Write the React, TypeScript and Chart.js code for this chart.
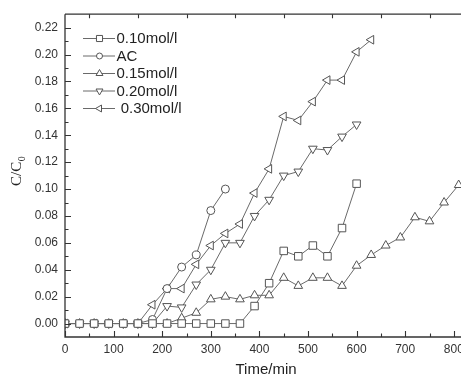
import React, { useEffect, useRef } from 'react';
import { Chart, registerables } from 'chart.js';
import { drawPoint } from 'chart.js/helpers';

Chart.register(...registerables);

// ---- data ----
const times = [0, 30, 60, 90, 120, 150, 180, 210, 240, 270, 300, 330, 360, 390, 420, 450, 480, 510, 540, 570, 600, 630, 660, 690, 720, 750, 780, 810];
const c010 = [0, 0, 0, 0, 0, 0, 0, 0, 0, 0, 0, 0, 0, 0.013, 0.030, 0.054, 0.050, 0.058, 0.050, 0.071, 0.104];
const cAC = [0, 0, 0, 0, 0, 0, 0.003, 0.026, 0.042, 0.051, 0.084, 0.100];
const c015 = [0, 0, 0, 0, 0, 0, 0, 0, 0.004, 0.008, 0.018, 0.020, 0.018, 0.021, 0.021, 0.034, 0.028, 0.034, 0.034, 0.028, 0.043, 0.051, 0.058, 0.064, 0.079, 0.076, 0.090, 0.103];
const c020 = [0, 0, 0, 0, 0, 0, 0, 0.013, 0.012, 0.029, 0.040, 0.060, 0.060, 0.080, 0.092, 0.110, 0.113, 0.130, 0.129, 0.139, 0.148];
const c030 = [0, 0, 0, 0, 0, 0, 0.014, 0.026, 0.026, 0.044, 0.058, 0.067, 0.074, 0.097, 0.115, 0.154, 0.151, 0.165, 0.181, 0.181, 0.202, 0.211];
const seriesLabels = ['0.10mol/l', 'AC', '0.15mol/l', '0.20mol/l', ' 0.30mol/l'];
const yTickValues = [0, 0.02, 0.04, 0.06, 0.08, 0.10, 0.12, 0.14, 0.16, 0.18, 0.20, 0.22];
const yMinorValues = [0.01, 0.03, 0.05, 0.07, 0.09, 0.11, 0.13, 0.15, 0.17, 0.19, 0.21];
const xTickValues = [0, 100, 200, 300, 400, 500, 600, 700, 800];
const xMinorValues = [50, 150, 250, 350, 450, 550, 650, 750, 850];
const xTopTickValues = [50, 150, 250, 350, 450, 550, 650, 750, 850];
const xTitle = 'Time/min';

const LINE = '#6a6a6a';
const MARK = '#555';
const AXIS = '#333';
const TEXT = '#333';
const SANS = '"Liberation Sans", Arial, sans-serif';
const SERIF = '"Liberation Serif", "Times New Roman", serif';

const styles = [
  { pointStyle: 'rect', rotation: 0, radius: 5.3 },
  { pointStyle: 'circle', rotation: 0, radius: 4 },
  { pointStyle: 'triangle', rotation: 0, radius: 5 },
  { pointStyle: 'triangle', rotation: 180, radius: 5 },
  { pointStyle: 'triangle', rotation: -90, radius: 5 },
];

const seriesValues = [c010, cAC, c015, c020, c030];

const decor = {
  id: 'decor',
  afterDraw(chart: any) {
    const { ctx, chartArea: ca, scales } = chart;
    const x = scales.x;
    const y = scales.y;
    ctx.save();
    ctx.strokeStyle = AXIS;
    ctx.lineWidth = 1.3;
    // axes lines
    ctx.beginPath();
    ctx.moveTo(ca.left, ca.top);
    ctx.lineTo(chart.width, ca.top);
    ctx.moveTo(ca.left, ca.top);
    ctx.lineTo(ca.left, ca.bottom);
    ctx.lineTo(chart.width, ca.bottom);
    ctx.stroke();
    ctx.lineWidth = 1.1;
    ctx.beginPath();
    yTickValues.forEach((v) => {
      const p = Math.round(y.getPixelForValue(v)) + 0.5;
      ctx.moveTo(ca.left, p);
      ctx.lineTo(ca.left + 6, p);
    });
    yMinorValues.forEach((v) => {
      const p = Math.round(y.getPixelForValue(v)) + 0.5;
      ctx.moveTo(ca.left, p);
      ctx.lineTo(ca.left + 3.5, p);
    });
    xTickValues.forEach((v) => {
      const p = Math.round(x.getPixelForValue(v)) + 0.5;
      ctx.moveTo(p, ca.bottom);
      ctx.lineTo(p, ca.bottom - 6);
    });
    xMinorValues.forEach((v) => {
      const p = Math.round(x.getPixelForValue(v)) + 0.5;
      ctx.moveTo(p, ca.bottom);
      ctx.lineTo(p, ca.bottom - 3.5);
    });
    xTopTickValues.forEach((v) => {
      const p = Math.round(x.getPixelForValue(v)) + 0.5;
      ctx.moveTo(p, ca.top);
      ctx.lineTo(p, ca.top + 4);
    });
    ctx.stroke();

    // legend
    const rows = [38.5, 56, 73.5, 91, 108.5];
    seriesLabels.forEach((lab, i) => {
      const ry = rows[i];
      ctx.strokeStyle = LINE;
      ctx.lineWidth = 1;
      ctx.beginPath();
      ctx.moveTo(83, ry);
      ctx.lineTo(115, ry);
      ctx.stroke();
      ctx.fillStyle = '#fff';
      ctx.strokeStyle = MARK;
      drawPoint(ctx, { pointStyle: styles[i].pointStyle, rotation: styles[i].rotation, radius: styles[i].radius - 1, borderWidth: 1 } as any, 99.5, ry);
      ctx.fillStyle = '#222';
      ctx.font = `15px ${SANS}`;
      ctx.textAlign = 'left';
      ctx.textBaseline = 'middle';
      ctx.fillText(lab, 116.5, ry + 0.5);
    });

    // x title
    ctx.fillStyle = '#222';
    ctx.font = `15px ${SANS}`;
    ctx.textAlign = 'center';
    ctx.textBaseline = 'middle';
    ctx.fillText(xTitle, 266, 370);

    // y title C/C0
    ctx.save();
    ctx.translate(21, 186);
    ctx.rotate(-Math.PI / 2);
    ctx.textAlign = 'left';
    ctx.textBaseline = 'alphabetic';
    ctx.font = `15px ${SERIF}`;
    ctx.fillText('C/C', 0, 0);
    const w = ctx.measureText('C/C').width;
    ctx.font = `10px ${SERIF}`;
    ctx.fillText('0', w + 0.5, 4);
    ctx.restore();

    ctx.restore();
  },
};

export default function App() {
  const ref = useRef<HTMLCanvasElement | null>(null);
  useEffect(() => {
    if (!ref.current) return;
    const datasets = seriesValues.map((vals, i) => ({
      label: seriesLabels[i],
      data: vals.map((v, j) => ({ x: times[j], y: v })),
      borderColor: LINE,
      borderWidth: 1,
      backgroundColor: '#fff',
      pointStyle: styles[i].pointStyle as any,
      rotation: styles[i].rotation,
      pointRadius: styles[i].radius,
      pointBorderColor: MARK,
      pointBackgroundColor: '#fff',
      pointBorderWidth: 1,
      tension: 0,
      fill: false,
      clip: { left: 0, right: 10, top: 10, bottom: 10 } as any,
    }));
    const chart = new Chart(ref.current, {
      type: 'line',
      data: { datasets },
      options: {
        animation: false,
        responsive: true,
        maintainAspectRatio: false,
        layout: { padding: { top: 13, right: 5, left: 0, bottom: 0 } },
        plugins: { legend: { display: false }, tooltip: { enabled: false } },
        scales: {
          x: {
            type: 'linear',
            min: 0,
            max: 861.5,
            grid: { display: false, drawTicks: false },
            border: { display: false },
            afterBuildTicks: (s: any) => {
              s.ticks = xTickValues.map((v) => ({ value: v }));
            },
            afterFit: (s: any) => {
              s.height = 42;
            },
            ticks: {
              autoSkip: false,
              maxRotation: 0,
              padding: 5,
              color: TEXT,
              font: { family: SANS, size: 12 },
              callback: (v: any) => String(v),
            },
          },
          y: {
            type: 'linear',
            min: -0.01,
            max: 0.23,
            grid: { display: false, drawTicks: false },
            border: { display: false },
            afterBuildTicks: (s: any) => {
              s.ticks = yTickValues.map((v) => ({ value: v }));
            },
            afterFit: (s: any) => {
              s.width = 65;
            },
            ticks: {
              autoSkip: false,
              padding: 7,
              color: TEXT,
              font: { family: SANS, size: 12 },
              callback: (v: any) => Number(v).toFixed(2),
            },
          },
        },
      },
      plugins: [decor],
    });
    return () => chart.destroy();
  }, []);

  return (
    <div style={{ position: 'fixed', left: 0, top: 0, width: 461, height: 379, overflow: 'hidden', background: '#fff' }}>
      <div style={{ position: 'relative', width: 490, height: 379 }}>
        <canvas ref={ref} />
      </div>
    </div>
  );
}
